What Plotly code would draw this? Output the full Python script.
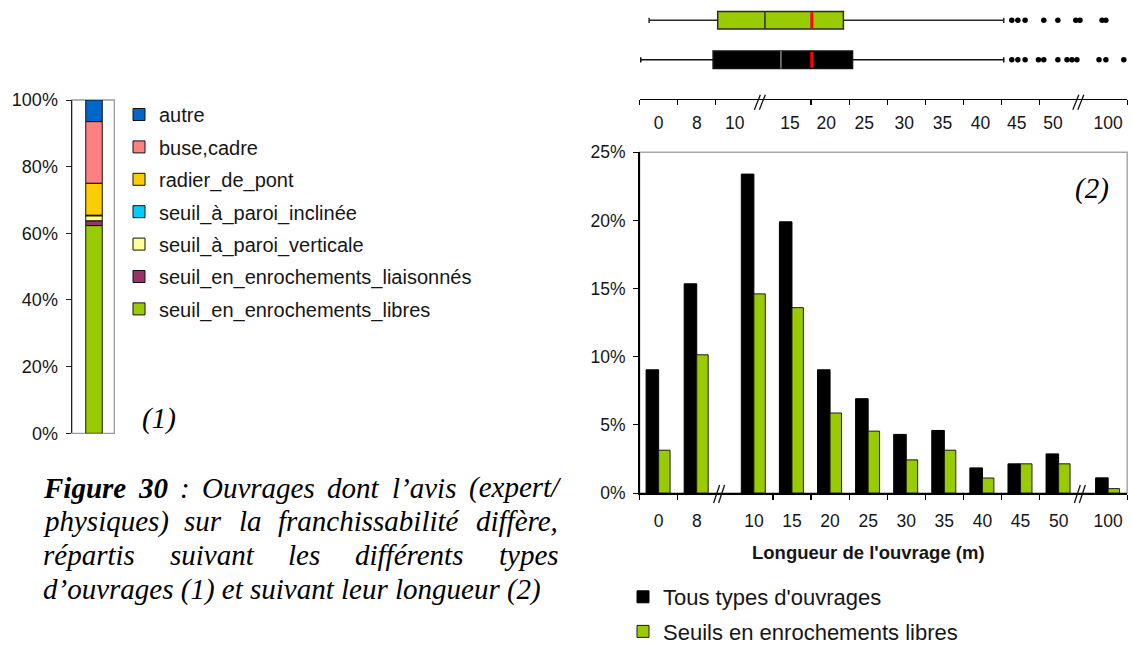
import plotly.graph_objects as go
import numpy as np

W, H = 1132, 646


def fx(p):
    return p / W


def fy(p):
    return 1 - p / H


# ---------------- (1) stacked bar: types d'ouvrages ----------------
types = ["autre", "buse,cadre", "radier_de_pont", "seuil_à_paroi_inclinée",
         "seuil_à_paroi_verticale", "seuil_en_enrochements_liaisonnés",
         "seuil_en_enrochements_libres"]
type_pct = [6.5, 18.5, 9.6, 0.2, 1.5, 1.4, 62.3]
type_colors = ["#0066CC", "#FF8080", "#FFCC00", "#00CCFF", "#FFFF99", "#993366", "#99CC00"]
pct_ticks_1 = [0, 20, 40, 60, 80, 100]

# ---------------- (2) histogram by length ----------------
length_classes = ["0", "8", "10", "15", "20", "25", "30", "35", "40", "45", "50", "100"]
tous_pct = [9.04, 15.35, 23.4, 19.9, 9.04, 6.92, 4.3, 4.59, 1.84, 2.14, 2.87, 1.11]
seuils_pct = [3.14, 10.14, 14.61, 13.6, 5.87, 4.54, 2.43, 3.14, 1.1, 2.14, 2.14, 0.32]
series_names = ["Tous types d'ouvrages", "Seuils en enrochements libres"]
pct_ticks_2 = [0, 5, 10, 15, 20, 25]

# ---------------- boxplots (values on the broken length scale, slot units) ----------------
box_lower = [0.03, 0.25]
box_q1 = [1.93, 2.05]
box_median = [3.71, 3.29]
box_q3 = [5.59, 5.35]
box_upper = [9.56, 9.56]
box_mean = [4.52, 4.52]
outliers_tous = [9.77, 9.93, 10.12, 10.47, 10.61, 10.98, 11.22, 11.35, 11.48, 12.06, 12.24, 12.71]
outliers_seuils = [9.77, 9.93, 10.12, 10.61, 10.98, 11.45, 11.56, 12.14, 12.24]

# ---------------- layout helpers (broken axis) ----------------
gap_after = {1: 0.5, 10: 0.3}
centers = []
off = 0.5
for i in range(len(length_classes)):
    centers.append(i + off)
    off += gap_after.get(i, 0)
X_END = 12.8
bottom_ticks = [0, 1, 3.5, 4.5, 5.5, 6.5, 7.5, 8.5, 9.5, 10.5, X_END]
bottom_breaks = [2.1, 11.57]
top_ticks = [0, 1, 2, 4.5, 5.5, 6.5, 7.5, 8.5, 9.5, 10.5, X_END]
top_label_pos = [0.5, 1.5, 2.5, 3.95, 4.9, 5.9, 6.95, 7.95, 8.95, 9.9, 10.85, 12.3]
top_breaks = [3.17, 11.53]

GREEN = "#99CC00"
SANS = "Liberation Sans, Arial, sans-serif"
SERIF = "Liberation Serif, Times New Roman, serif"
TXT = "#161616"

# pixel frame of the panels
BAR_TOP, BAR_BOT = 152.3, 493.0
BOX_AXIS = 98.7
LEFT_TOP, LEFT_BOT = 100.0, 433.3

fig = go.Figure()

# ---- (1) stacked bar, bottom-to-top order is reverse of legend order
rev = type_pct[::-1]
cum = np.concatenate([[0.0], np.cumsum(rev)[:-1]])
bases = cum[::-1]
for name, v, b, c in zip(types, type_pct, bases, type_colors):
    fig.add_trace(go.Bar(
        x=[0], y=[v], base=[b], width=0.39, name=name,
        marker=dict(color=c, line=dict(color="#111111", width=1)),
        xaxis="x3", yaxis="y3", legend="legend", legendgroup=name,
        hoverinfo="skip"))

# ---- (2) grouped bars
fig.add_trace(go.Bar(
    x=centers, y=tous_pct, width=0.33, offset=-0.33, name=series_names[0],
    marker=dict(color="#000000", line=dict(color="#000000", width=1)),
    xaxis="x", yaxis="y", legend="legend2", legendgroup="g1", hoverinfo="skip"))
fig.add_trace(go.Bar(
    x=centers, y=seuils_pct, width=0.30, offset=0.0, name=series_names[1],
    marker=dict(color=GREEN, line=dict(color="#1a1a1a", width=1)),
    xaxis="x", yaxis="y", legend="legend2", legendgroup="g2", hoverinfo="skip"))

# ---- boxplots (0 = tous, 1 = seuils)
box_pos = [0, 1]
box_fill = ["#000000", GREEN]
box_line = ["#111111", "#2a2a2a"]
BOXW = 0.443
for k in range(2):
    fig.add_trace(go.Box(
        orientation="h", y=[box_pos[k]], q1=[box_q1[k]], median=[box_median[k]],
        q3=[box_q3[k]], lowerfence=[box_lower[k]], upperfence=[box_upper[k]],
        fillcolor=box_fill[k], line=dict(color=box_line[k], width=1.5),
        whiskerwidth=0.3, width=BOXW, boxpoints=False, showlegend=False,
        xaxis="x2", yaxis="y2", hoverinfo="skip"))
# gray median for the black box
fig.add_trace(go.Scatter(
    x=[box_median[0], box_median[0]], y=[box_pos[0] - BOXW / 2, box_pos[0] + BOXW / 2],
    mode="lines", line=dict(color="#7a7a7a", width=1.6), showlegend=False,
    xaxis="x2", yaxis="y2", hoverinfo="skip"))
# red mean lines
mx, my = [], []
for k in range(2):
    mx += [box_mean[k], box_mean[k], None]
    my += [box_pos[k] - BOXW / 2 + 0.02, box_pos[k] + BOXW / 2 - 0.02, None]
fig.add_trace(go.Scatter(
    x=mx, y=my, mode="lines", line=dict(color="#FF0000", width=3),
    showlegend=False, xaxis="x2", yaxis="y2", hoverinfo="skip"))
# outliers
fig.add_trace(go.Scatter(
    x=outliers_tous + outliers_seuils,
    y=[box_pos[0]] * len(outliers_tous) + [box_pos[1]] * len(outliers_seuils),
    mode="markers", marker=dict(color="#000000", size=5.5),
    showlegend=False, xaxis="x2", yaxis="y2", hoverinfo="skip"))

# ---------------- axes ----------------
X_DOM = [fx(639.6), fx(1127.2)]
fig.update_layout(
    xaxis=dict(domain=X_DOM, range=[0, X_END], anchor="y", showline=True,
               linecolor="#000000", linewidth=1.5, tickmode="array",
               tickvals=centers, ticktext=length_classes, ticks="",
               ticklabelstandoff=11,
               tickfont=dict(family=SANS, size=17.5, color=TXT),
               minor=dict(tickmode="array", tickvals=bottom_ticks, ticks="outside",
                          ticklen=5, tickwidth=1.2, tickcolor="#000000", showgrid=False),
               showgrid=False, zeroline=False, fixedrange=True),
    yaxis=dict(domain=[fy(BAR_BOT), fy(BAR_TOP)], range=[0, 25], anchor="x",
               tickmode="array", tickvals=pct_ticks_2,
               ticktext=[f"{v}%" for v in pct_ticks_2],
               ticks="outside", ticklen=5, tickcolor="#000000", showline=True,
               linecolor="#000000", linewidth=1.5, ticklabelstandoff=4,
               tickfont=dict(family=SANS, size=17.5, color=TXT),
               showgrid=False, zeroline=False, fixedrange=True),
    xaxis2=dict(domain=X_DOM, range=[0, X_END], anchor="y2", showline=True,
                linecolor="#000000", linewidth=1.3, tickmode="array",
                tickvals=top_label_pos, ticktext=length_classes, ticks="",
                ticklabelstandoff=8,
                tickfont=dict(family=SANS, size=17.5, color=TXT),
                minor=dict(tickmode="array", tickvals=top_ticks, ticks="outside",
                           ticklen=5, tickwidth=1.2, tickcolor="#000000", showgrid=False),
                showgrid=False, zeroline=False, fixedrange=True),
    yaxis2=dict(domain=[fy(BOX_AXIS), 1.0], range=[-0.985, 1.514], anchor="x2",
                visible=False, fixedrange=True),
    xaxis3=dict(domain=[fx(72), fx(114.3)], range=[-0.52, 0.48], anchor="y3",
                visible=False, fixedrange=True),
    yaxis3=dict(domain=[fy(LEFT_BOT), fy(LEFT_TOP)], range=[0, 100], anchor="x3",
                tickmode="array", tickvals=pct_ticks_1,
                ticktext=[f"{v}%" for v in pct_ticks_1],
                ticks="outside", ticklen=5, tickcolor="#222222", showline=True,
                linecolor="#222222", linewidth=1.5, ticklabelstandoff=4,
                tickfont=dict(family=SANS, size=18, color=TXT),
                showgrid=False, zeroline=False, fixedrange=True),
)

# ---------------- shapes: plot borders and axis breaks ----------------
shapes = [
    dict(type="rect", xref="x3 domain", yref="y3 domain", x0=0, x1=1, y0=0, y1=1,
         line=dict(color="#9a9a9a", width=1.3), layer="below"),
    dict(type="rect", xref="x domain", yref="y domain", x0=0, x1=1, y0=0, y1=1,
         line=dict(color="#a8a8a8", width=1.5), layer="below"),
]
for bx in bottom_breaks:
    for dx in (-3, 2):
        shapes.append(dict(type="line", xref="x", yref="paper",
                           xsizemode="pixel", xanchor=bx, ysizemode="pixel", yanchor=fy(BAR_BOT),
                           x0=dx - 3, x1=dx + 3, y0=-10, y1=8,
                           line=dict(color="#111111", width=1.3)))
for bx in top_breaks:
    for dx in (-3, 2):
        shapes.append(dict(type="line", xref="x2", yref="paper",
                           xsizemode="pixel", xanchor=bx, ysizemode="pixel", yanchor=fy(BOX_AXIS),
                           x0=dx - 3, x1=dx + 3, y0=-11, y1=4,
                           line=dict(color="#111111", width=1.3)))

# ---------------- annotations ----------------
ann = []
ann.append(dict(text="<b>Longueur de l'ouvrage (m)</b>", x=fx(868), y=fy(552),
                xref="paper", yref="paper", showarrow=False, xanchor="center", yanchor="middle",
                font=dict(family=SANS, size=18.5, color=TXT)))
ann.append(dict(text="<i>(1)</i>", x=fx(159), y=fy(418.5), xref="paper", yref="paper",
                showarrow=False, xanchor="center", yanchor="middle",
                font=dict(family=SERIF, size=29, color="#000000")))
ann.append(dict(text="<i>(2)</i>", x=fx(1092), y=fy(188), xref="paper", yref="paper",
                showarrow=False, xanchor="center", yanchor="middle",
                font=dict(family=SERIF, size=29, color="#000000")))

# caption, justified word by word (Times italic metrics, em/1000)
TI = {" ": 250, "(": 333, ")": 333, "/": 278, ":": 333, ",": 250, "’": 333,
      "0": 500, "1": 500, "2": 500, "3": 500, "O": 722, "F": 611,
      "a": 500, "b": 500, "c": 444, "d": 500, "e": 444, "f": 278, "g": 500,
      "h": 500, "i": 278, "l": 278, "m": 722, "n": 500, "o": 500, "p": 500,
      "q": 500, "r": 389, "s": 389, "t": 278, "u": 500, "v": 444, "x": 444,
      "y": 444, "é": 444, "è": 444, "à": 500}
TBI = dict(TI)
TBI.update({"F": 667, "u": 556})
CAP_SIZE = 29
CAP_LEFT, CAP_RIGHT = 42, 558
cap_lines = [
    ["Figure", "30", ":", "Ouvrages", "dont", "l’avis", "(expert/"],
    ["physiques)", "sur", "la", "franchissabilité", "diffère,"],
    ["répartis", "suivant", "les", "différents", "types"],
]
cap_last = "d’ouvrages (1) et suivant leur longueur (2)"
cap_bold = {"Figure", "30"}
cap_y = [488, 521, 555, 589]


def wpx(word, bold):
    tab = TBI if bold else TI
    return sum(tab.get(ch, 500) for ch in word) / 1000 * CAP_SIZE


for li, words in enumerate(cap_lines):
    ws = [wpx(w, w in cap_bold and li == 0) for w in words]
    gap = (CAP_RIGHT - CAP_LEFT - sum(ws)) / (len(words) - 1)
    xpos = CAP_LEFT
    for w, ww in zip(words, ws):
        t = f"<b><i>{w}</i></b>" if (li == 0 and w in cap_bold) else f"<i>{w}</i>"
        ann.append(dict(text=t, x=fx(xpos), y=fy(cap_y[li]), xref="paper", yref="paper",
                        showarrow=False, xanchor="left", yanchor="middle", borderpad=0,
                        font=dict(family=SERIF, size=CAP_SIZE, color="#000000")))
        xpos += ww + gap
ann.append(dict(text=f"<i>{cap_last}</i>", x=fx(CAP_LEFT), y=fy(cap_y[3]),
                xref="paper", yref="paper", showarrow=False, xanchor="left",
                yanchor="middle", borderpad=0,
                font=dict(family=SERIF, size=CAP_SIZE, color="#000000")))

fig.update_layout(
    width=W, height=H,
    margin=dict(l=0, r=0, t=0, b=0, pad=0, autoexpand=False),
    paper_bgcolor="#ffffff", plot_bgcolor="rgba(0,0,0,0)",
    barmode="overlay", showlegend=True,
    shapes=shapes, annotations=ann,
    legend=dict(x=fx(119), y=fy(95), xanchor="left", yanchor="top",
                traceorder="grouped", tracegroupgap=3.4, itemclick=False,
                bgcolor="rgba(0,0,0,0)",
                font=dict(family=SANS, size=20, color=TXT)),
    legend2=dict(x=fx(623), y=fy(576), xanchor="left", yanchor="top",
                 traceorder="grouped", tracegroupgap=3.0, itemclick=False,
                 bgcolor="rgba(0,0,0,0)",
                 font=dict(family=SANS, size=22, color=TXT)),
)

fig.write_html(
    "out.html",
    config={"displayModeBar": False, "staticPlot": True},
    post_script="document.body.style.margin='0px';"
                "document.documentElement.style.overflow='hidden';"
                "document.body.style.overflow='hidden';",
)
